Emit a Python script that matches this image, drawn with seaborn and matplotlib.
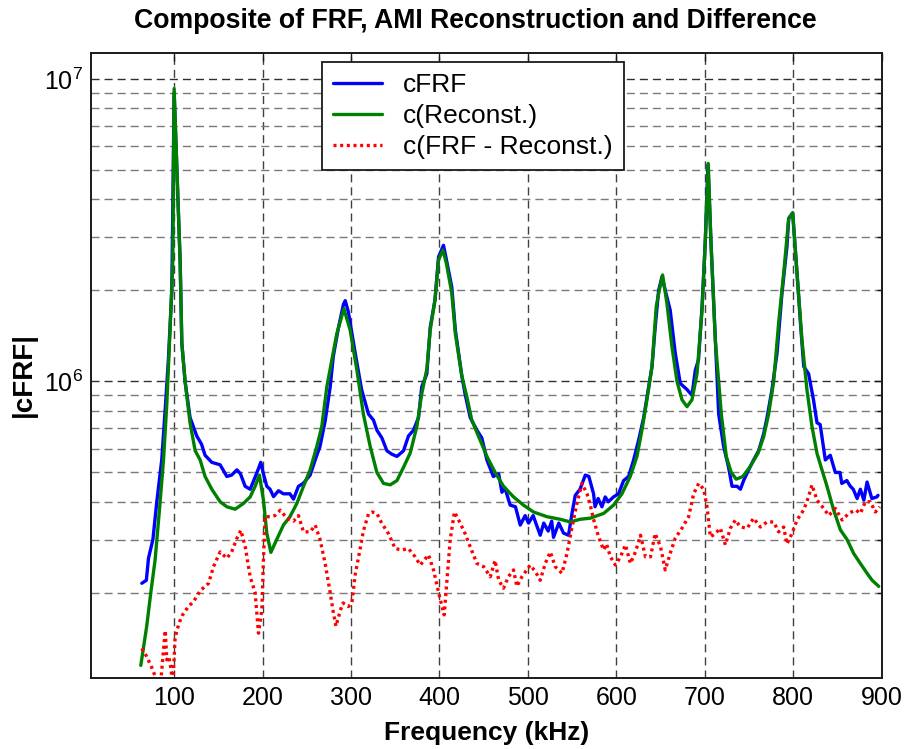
import numpy as np
import pandas as pd
import matplotlib
matplotlib.use("Agg")
import matplotlib.pyplot as plt
import matplotlib.ticker as mticker
import seaborn as sns

# ---------------- data ----------------
frf_freq = [63.5, 68.6, 71, 76, 80.4, 86, 89.8, 93.5, 97.4, 100, 106.8, 108.7, 112.4, 118, 125.6, 131, 135,
            142.6, 152, 159.6, 165, 171, 175, 180.3, 186, 193.5, 198, 201, 204.8, 208.5, 212.4, 218, 223.6,
            231, 235, 240.6, 246, 253.8, 259.5, 265, 270.8, 276.5, 280, 285.9, 291.5, 293.5, 297, 304.8,
            312, 319.8, 325.4, 329.3, 335, 340.6, 346, 352, 359.4, 365, 370.7, 376.4, 380, 385.8, 389.6,
            395, 399, 404.6, 408, 414, 418, 425.4, 429, 434.8, 442.4, 448, 453.7, 461, 467, 470.7, 474,
            480, 486, 491.4, 497, 500.8, 506, 514, 518, 523, 527, 529, 535, 540.4, 546, 550, 553.6, 559,
            565, 569, 574.3, 576, 579.5, 583.8, 587.5, 591, 596.9, 602.6, 608.3, 614, 619.6, 625.3, 631,
            636.7, 640.4, 644, 647.9, 651.7, 655.4, 661, 666.7, 672.4, 680, 685.6, 689.4, 693, 697, 700.7,
            703.7, 707, 712, 715.8, 721.4, 727, 730.9, 736.6, 740.4, 744, 749.7, 755.3, 761, 766.6, 770.5,
            776.1, 781.8, 787.4, 793, 795, 799.5, 804.4, 808.3, 812, 817.5, 823, 827, 830.6, 836.4, 842,
            847.7, 853, 855, 860.7, 864.7, 868, 872.4, 876, 880, 883.6, 889, 894.7, 896]
frf_vals = [2.15e5, 2.2e5, 2.6e5, 3.0e5, 4.0e5, 5.5e5, 8.0e5, 1.18e6, 2.0e6, 9.0e6, 2.5e6, 1.34e6, 1.0e6,
            7.6e5, 6.6e5, 6.2e5, 5.7e5, 5.4e5, 5.3e5, 4.85e5, 4.9e5, 5.1e5, 4.95e5, 4.5e5, 4.4e5, 4.98e5,
            5.4e5, 4.95e5, 4.5e5, 4.4e5, 4.16e5, 4.35e5, 4.25e5, 4.25e5, 4.08e5, 4.5e5, 4.6e5, 4.9e5, 5.5e5,
            6.1e5, 7.4e5, 9.6e5, 1.21e6, 1.51e6, 1.8e6, 1.85e6, 1.7e6, 1.24e6, 9.4e5, 7.8e5, 7.45e5, 6.9e5,
            6.5e5, 5.9e5, 5.75e5, 5.65e5, 5.9e5, 6.6e5, 6.9e5, 7.6e5, 9.6e5, 1.06e6, 1.51e6, 1.86e6, 2.58e6,
            2.82e6, 2.52e6, 2.05e6, 1.48e6, 1.04e6, 9.1e5, 7.6e5, 6.9e5, 6.5e5, 5.5e5, 4.85e5, 4.95e5, 4.3e5,
            4.45e5, 3.9e5, 3.85e5, 3.35e5, 3.6e5, 3.4e5, 3.6e5, 3.1e5, 3.4e5, 3.2e5, 3.45e5, 3.05e5, 3.4e5,
            3.15e5, 3.1e5, 3.67e5, 4.2e5, 4.4e5, 4.9e5, 4.85e5, 4.25e5, 3.85e5, 4.1e5, 3.85e5, 4.15e5, 4.0e5,
            4.15e5, 4.25e5, 4.7e5, 4.85e5, 5.5e5, 6.4e5, 7.6e5, 9.6e5, 1.12e6, 1.51e6, 2.0e6, 2.22e6, 2.0e6,
            1.72e6, 1.24e6, 9.85e5, 9.4e5, 9.0e5, 1.09e6, 1.18e6, 1.77e6, 2.93e6, 5.2e6, 2.93e6, 1.37e6,
            7.8e5, 6.1e5, 5.2e5, 4.5e5, 4.5e5, 4.4e5, 4.7e5, 5.1e5, 5.5e5, 5.9e5, 6.7e5, 7.6e5, 9.4e5,
            1.24e6, 1.96e6, 2.79e6, 3.46e6, 3.61e6, 2.28e6, 1.56e6, 1.12e6, 1.06e6, 8.7e5, 7.3e5, 7.2e5,
            5.5e5, 5.7e5, 5.0e5, 5.0e5, 4.6e5, 4.7e5, 4.5e5, 4.4e5, 4.1e5, 4.4e5, 4.05e5, 4.65e5, 4.1e5,
            4.15e5, 4.2e5]

rec_freq = [62.3, 69, 73.6, 78.5, 83.4, 88, 91.8, 95.5, 98.5, 100, 106.8, 108.7, 112.4, 118, 123.8, 129.4,
            135, 142.6, 152, 159.6, 169, 178.4, 186, 191.6, 196.5, 201, 204.8, 209.4, 216, 223.6, 231,
            238.8, 246.3, 253.8, 261.4, 267, 272.7, 278.4, 284, 292, 299, 306.7, 314, 321.7, 329.3, 336.8,
            344.4, 352, 359.4, 367, 374.5, 380, 385.8, 389.6, 395, 399, 404, 408, 414, 418, 425.4, 431,
            436.6, 446, 453.7, 463, 472.5, 483.8, 495, 506.4, 521.6, 536.7, 548, 559, 570.6, 585.7, 597,
            606.4, 615.8, 623.4, 629, 634.7, 640.4, 645.2, 648, 652.4, 657.3, 663, 668.7, 674.3, 680,
            685.6, 691.3, 697, 700.7, 704, 707, 712, 718.8, 724.4, 730, 735.7, 743.2, 750.8, 760.2, 766.6,
            772.3, 778, 783.6, 789.3, 795, 799.5, 804.4, 810, 815.6, 821.3, 827, 832.6, 838.3, 845.8,
            853.4, 861, 868.4, 876, 883.6, 889.3, 896.8]
rec_vals = [1.15e5, 1.55e5, 2.0e5, 2.57e5, 3.76e5, 5.5e5, 8.5e5, 1.51e6, 2.5e6, 9.3e6, 2.5e6, 1.34e6, 1.0e6,
            7.3e5, 5.9e5, 5.5e5, 4.85e5, 4.4e5, 4.0e5, 3.85e5, 3.78e5, 3.95e5, 4.15e5, 4.5e5, 4.9e5, 4.05e5,
            3.15e5, 2.72e5, 3.0e5, 3.35e5, 3.57e5, 3.95e5, 4.5e5, 5.1e5, 6.1e5, 7.1e5, 9.6e5, 1.18e6,
            1.44e6, 1.74e6, 1.48e6, 1.09e6, 7.8e5, 6.1e5, 5.0e5, 4.6e5, 4.55e5, 4.7e5, 5.2e5, 5.8e5, 7.1e5,
            9.1e5, 1.1e6, 1.48e6, 1.86e6, 2.52e6, 2.72e6, 2.45e6, 1.96e6, 1.44e6, 1.04e6, 8.9e5, 7.45e5,
            6.4e5, 5.65e5, 5.0e5, 4.5e5, 4.15e5, 3.9e5, 3.7e5, 3.57e5, 3.5e5, 3.43e5, 3.5e5, 3.53e5, 3.66e5,
            3.9e5, 4.25e5, 4.85e5, 5.65e5, 6.9e5, 8.7e5, 1.12e6, 1.77e6, 1.96e6, 2.25e6, 1.81e6, 1.3e6,
            1.0e6, 8.7e5, 8.25e5, 8.7e5, 1.06e6, 1.72e6, 2.93e6, 5.26e6, 2.93e6, 1.37e6, 7.8e5, 5.65e5,
            5.0e5, 4.75e5, 4.85e5, 5.2e5, 5.78e5, 6.55e5, 7.8e5, 1.0e6, 1.56e6, 2.28e6, 3.46e6, 3.61e6,
            2.28e6, 1.37e6, 9.4e5, 7.1e5, 5.78e5, 5.1e5, 4.5e5, 3.76e5, 3.23e5, 3.0e5, 2.7e5, 2.5e5,
            2.32e5, 2.2e5, 2.1e5]

diff_freq = [63.5, 69, 74.8, 78.5, 82, 85, 88, 90, 91.7, 94, 96.5, 98.5, 101, 103, 106.8, 109, 116, 122,
             129.4, 139, 144.5, 152, 159.6, 165, 171, 175.5, 180.4, 186, 191.6, 195.4, 199.2, 201, 203,
             208.5, 214, 220, 227.5, 235, 240.6, 246.3, 254, 259.5, 265, 270.8, 276.5, 280.2, 283, 288,
             291, 297, 301, 304.8, 310.4, 314, 319.8, 324, 329.3, 334.7, 342.3, 350, 357.6, 365, 372.6,
             378.3, 387.7, 393.3, 400.9, 405.4, 408.5, 412.2, 417, 423.5, 429, 434.8, 442.4, 450, 457.5,
             463, 467, 472.5, 478, 483.8, 487.6, 493.3, 502.7, 508.5, 514, 519.7, 525.4, 531, 538.6,
             544.3, 550, 555.5, 561.2, 566.9, 570.6, 574.3, 580, 585.7, 589, 593.4, 599, 604.8, 610.4,
             616, 621.7, 627.4, 633, 638.7, 644, 650, 655.4, 661, 666.7, 674.3, 681.8, 687.5, 693.2,
             698.9, 702.6, 706.4, 712, 717.7, 723.4, 729, 734.7, 740.4, 748, 755.3, 762.9, 770.5, 778,
             783.6, 789.3, 793, 798.7, 804.4, 812, 817.5, 821.3, 827, 834.6, 840.3, 847.7, 855.4, 862.9,
             870.6, 876, 881.7, 887.3, 893, 898]
diff_vals = [1.31e5, 1.23e5, 1.13e5, 1.06e5, 0.98e5, 1.02e5, 1.3e5, 1.5e5, 1.2e5, 1.23e5, 1.12e5, 0.98e5,
             1.4e5, 1.5e5, 1.62e5, 1.68e5, 1.8e5, 1.87e5, 2.03e5, 2.15e5, 2.44e5, 2.73e5, 2.6e5, 2.73e5,
             3.03e5, 3.22e5, 2.84e5, 2.26e5, 2.0e5, 1.47e5, 1.76e5, 2.56e5, 3.57e5, 3.57e5, 3.6e5, 3.75e5,
             3.53e5, 3.45e5, 3.6e5, 3.18e5, 3.18e5, 3.35e5, 3.0e5, 2.5e5, 2.0e5, 1.71e5, 1.55e5, 1.75e5,
             1.85e5, 1.8e5, 1.85e5, 2.3e5, 2.8e5, 3.2e5, 3.65e5, 3.7e5, 3.66e5, 3.4e5, 3.14e5, 2.8e5,
             2.77e5, 2.8e5, 2.63e5, 2.47e5, 2.67e5, 2.38e5, 1.9e5, 1.69e5, 2.2e5, 3.0e5, 3.7e5, 3.4e5,
             3.14e5, 2.84e5, 2.5e5, 2.44e5, 2.26e5, 2.56e5, 2.2e5, 2.07e5, 2.26e5, 2.38e5, 2.1e5, 2.26e5,
             2.47e5, 2.35e5, 2.2e5, 2.5e5, 2.73e5, 2.44e5, 2.32e5, 2.7e5, 3.3e5, 3.95e5, 4.6e5, 4.25e5,
             3.9e5, 3.5e5, 3.06e5, 2.77e5, 2.9e5, 2.63e5, 2.47e5, 2.63e5, 2.88e5, 2.5e5, 2.73e5, 3.1e5,
             2.63e5, 2.63e5, 3.14e5, 2.84e5, 2.38e5, 2.7e5, 3.03e5, 3.27e5, 3.57e5, 4.25e5, 4.6e5, 4.4e5,
             3.85e5, 3.06e5, 3.14e5, 3.27e5, 2.88e5, 3.27e5, 3.48e5, 3.3e5, 3.27e5, 3.53e5, 3.3e5, 3.43e5,
             3.43e5, 3.18e5, 3.3e5, 2.9e5, 3.14e5, 3.48e5, 3.76e5, 4.16e5, 4.55e5, 4.05e5, 3.8e5, 3.6e5,
             3.8e5, 3.48e5, 3.66e5, 3.76e5, 3.66e5, 4.0e5, 4.0e5, 3.7e5, 3.85e5]

series_labels = ["cFRF", "c(Reconst.)", "c(FRF - Reconst.)"]
x_ticks = [100, 200, 300, 400, 500, 600, 700, 800, 900]

# ---------------- style ----------------
sns.set_style("white")
plt.rcParams["font.family"] = ["Liberation Sans", "DejaVu Sans"]
plt.rcParams["mathtext.default"] = "regular"
plt.rcParams["text.color"] = "black"
plt.rcParams["axes.labelcolor"] = "black"

fig = plt.figure(figsize=(9.07, 7.49), dpi=100)
ax = fig.add_axes([91 / 907, 71 / 749, 791 / 907, 625 / 749])

sns.lineplot(x=frf_freq, y=frf_vals, ax=ax, color=(0, 0, 1), lw=2.4, sort=False,
             estimator=None, label=series_labels[0])
sns.lineplot(x=rec_freq, y=rec_vals, ax=ax, color=(0, 0.5, 0), lw=2.4, sort=False,
             estimator=None, label=series_labels[1])
sns.lineplot(x=diff_freq, y=diff_vals, ax=ax, color=(1, 0, 0), lw=2.4, sort=False,
             estimator=None, label=series_labels[2], linestyle=(0, (0.9, 1.1)))

ax.set_yscale("log")
ax.set_xlim(6, 900.5)
ax.set_ylim(1.045e5, 1.22e7)
ax.set_xticks(x_ticks)
ax.set_xticklabels([str(t) for t in x_ticks])
ax.yaxis.set_major_locator(mticker.LogLocator(base=10, numticks=10))
ax.yaxis.set_minor_locator(mticker.LogLocator(base=10, subs=np.arange(2, 10), numticks=20))
ax.yaxis.set_minor_formatter(mticker.NullFormatter())

dash = (0, (5.8, 3.6))
ax.xaxis.grid(True, which="major", linestyle=dash, color="#404040", lw=1.0)
ax.yaxis.grid(True, which="major", linestyle=dash, color="#303030", lw=1.0)
ax.yaxis.grid(True, which="minor", linestyle=dash, color="#7a7a7a", lw=1.0)
ax.set_axisbelow(True)

ax.tick_params(which="both", direction="in", top=True, right=True, color="#1a1a1a",
               labelcolor="black")
ax.tick_params(which="major", length=6, width=1.0, labelsize=18, pad=6)
ax.tick_params(which="minor", length=3.5, width=1.0)
for sp in ax.spines.values():
    sp.set_color("#1a1a1a")
    sp.set_linewidth(1.4)

fig.text(475.5 / 907, 1 - 21 / 749, "Composite of FRF, AMI Reconstruction and Difference",
         fontsize=19.2, fontweight="bold", ha="center", va="center", color="black")
ax.set_xlabel("Frequency (kHz)", fontsize=19, fontweight="bold")
ax.xaxis.set_label_coords(0.5, (678 - 721) / 625)
ax.set_ylabel("|cFRF|", fontsize=20, fontweight="bold")
ax.yaxis.set_label_coords((37 - 91) / 791, (678 - 374.5) / 625)

leg = ax.legend(loc="upper left", bbox_to_anchor=((322 - 91) / 791, (678 - 62) / 625),
                borderaxespad=0, fontsize=19, frameon=True, fancybox=False, framealpha=1,
                handlelength=1.85, handletextpad=0.8, labelspacing=0.26, borderpad=0.42)
leg.get_frame().set_edgecolor("#1a1a1a")
leg.get_frame().set_linewidth(1.3)
for t in leg.get_texts():
    t.set_color("black")

fig.savefig("out.png", dpi=100)
